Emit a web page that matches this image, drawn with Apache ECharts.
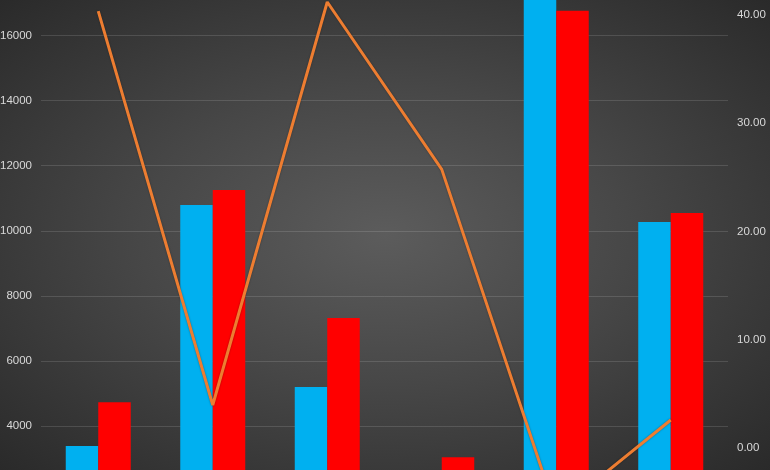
<!DOCTYPE html>
<html>
<head>
<meta charset="utf-8">
<script src="https://cdn.jsdelivr.net/npm/echarts@6/dist/echarts.min.js"></script>
<style>
  html, body { margin: 0; padding: 0; }
  #main {
    width: 770px; height: 470px;
    background: radial-gradient(ellipse at 50% 50%, #5c5c5c 0%, #474747 45%, #2a2a2a 100%);
  }
</style>
</head>
<body>
<div id="main"></div>
<script>
var categories = ["A", "B", "C", "D", "E", "F"];
var blueValues = [3385, 10790, 5200, 2500, 17800, 10270];
var redValues = [4730, 11250, 7320, 3040, 16760, 10545];
var lineValues = [40.36, 3.95, 41.2, 25.73, -6.0, 2.56];

var labelStyle = {
  color: "#d9d9d9",
  fontSize: 11.5,
  fontFamily: "'Liberation Sans Narrow', 'Liberation Sans', sans-serif"
};

var chart = echarts.init(document.getElementById("main"));
var option = {
  animation: false,
  backgroundColor: "transparent",
  grid: [
    // bars; the chart is cropped so the plot runs past the edges
    { left: 41, right: 42, top: -29.6, bottom: -21.1, outerBoundsMode: "none", containLabel: false },
    // line, on its own scale
    { left: 41, right: 42, top: -93.2, bottom: -85.9, outerBoundsMode: "none", containLabel: false }
  ],
  xAxis: [
    { type: "category", gridIndex: 0, data: categories, show: false },
    { type: "category", gridIndex: 1, data: categories, show: false }
  ],
  yAxis: [
    {
      type: "value",
      gridIndex: 0,
      min: 2000,
      max: 18000,
      interval: 2000,
      axisLine: { show: false },
      axisTick: { show: false },
      axisLabel: Object.assign({
        margin: 9,
        formatter: function (v) { return String(v); }
      }, labelStyle),
      splitLine: { lineStyle: { color: "rgba(255,255,255,0.13)", width: 1 } }
    },
    {
      type: "value",
      gridIndex: 1,
      position: "right",
      min: -10,
      max: 50,
      interval: 10,
      axisLine: { show: false },
      axisTick: { show: false },
      axisLabel: Object.assign({
        margin: 9,
        formatter: function (v) { return v.toFixed(2); }
      }, labelStyle),
      splitLine: { show: false }
    }
  ],
  series: [
    {
      type: "bar",
      xAxisIndex: 0,
      yAxisIndex: 0,
      barWidth: 32.5,
      barGap: "0%",
      itemStyle: { color: "#00b0f0" },
      data: blueValues
    },
    {
      type: "bar",
      xAxisIndex: 0,
      yAxisIndex: 0,
      barWidth: 32.5,
      barGap: "0%",
      itemStyle: { color: "#ff0000" },
      data: redValues
    },
    {
      type: "line",
      xAxisIndex: 1,
      yAxisIndex: 1,
      symbol: "none",
      z: 5,
      lineStyle: {
        color: "#ed7d31",
        width: 3,
        shadowColor: "rgba(0,0,0,0.35)",
        shadowBlur: 2
      },
      data: lineValues
    }
  ]
};
chart.setOption(option);
</script>
</body>
</html>
